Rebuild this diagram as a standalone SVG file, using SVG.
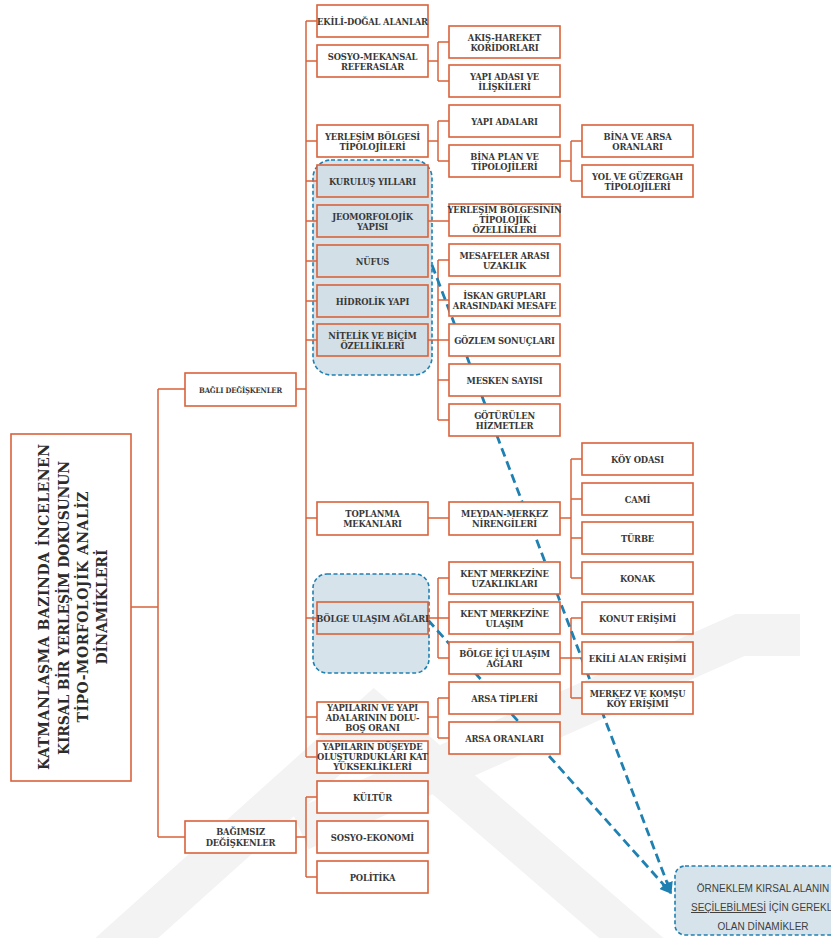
<svg xmlns="http://www.w3.org/2000/svg" width="831" height="938" viewBox="0 0 831 938">
<defs>
<style>
.b{fill:#ffffff;stroke:#d9623b;stroke-width:1.6}
.h{fill:#d3dfe6;stroke:#d9623b;stroke-width:1.6}
.ht{fill:none;stroke:#d9623b;stroke-width:1.6}
.c{fill:none;stroke:#d9623b;stroke-width:1.5}
.g{fill:#d7e3ea;stroke:#1f80b2;stroke-width:1.6;stroke-dasharray:4 2.5}
.d{fill:none;stroke:#1f80b2;stroke-width:2.8;stroke-dasharray:9 5}
.w{fill:none;stroke:#f3f3f3;stroke-width:42;stroke-linejoin:miter}
.t{font-family:"DejaVu Serif Condensed","DejaVu Serif",serif;font-stretch:condensed;font-weight:bold;font-size:9.3px;letter-spacing:-0.15px;fill:#383838;text-anchor:middle}
.s{font-size:7.6px}
.tt{font-family:"DejaVu Serif Condensed","DejaVu Serif",serif;font-stretch:condensed;font-weight:bold;font-size:15.5px;fill:#2c2c2c;text-anchor:middle}
.o{font-family:"Liberation Sans","DejaVu Sans",sans-serif;font-size:10px;fill:#404040;text-anchor:middle}
</style>
<marker id="ar" viewBox="0 0 10 10" refX="9" refY="5" markerWidth="4.2" markerHeight="4.2" orient="auto" markerUnits="strokeWidth">
<path d="M0,0 L10,5 L0,10 z" fill="#1f80b2"/>
</marker>
</defs>
<rect width="831" height="938" fill="#ffffff"/>

<g id="watermark">
<path class="w" d="M80,980 L374,716 L680,980"/>
<path class="w" stroke-width="46" d="M300,830 L740,635 L800,635"/>
</g>

<!-- highlight groups -->
<g id="group-1"><rect class="g" x="313" y="160" width="119" height="215" rx="18"/></g>
<g id="group-2"><rect class="g" x="313" y="574" width="116" height="99" rx="14"/></g>

<g id="connectors">
<path class="c" d="M131,607 H158 M158,389 V837 M158,389 H185 M158,837 H185"/>
<path class="c" d="M296,389 H306 M306,21 V757 M306,21 H317 M306,61 H317 M306,141 H317 M306,181 H317 M306,221 H317 M306,261 H317 M306,301 H317 M306,340 H317 M306,518 H317 M306,618 H317 M306,717 H317 M306,757 H317"/>
<path class="c" d="M296,837 H306 M306,797 V877 M306,797 H317 M306,877 H317"/>
<path class="c" d="M428,61 H438 M438,42 V81 M438,42 H449 M438,81 H449"/>
<path class="c" d="M428,141 H438 M438,121 V161 M438,121 H449 M438,161 H449"/>
<path class="c" d="M560,161 H571 M571,141 V181 M571,141 H582 M571,181 H582"/>
<path class="c" d="M428,221 H449"/>
<path class="c" d="M428,340 H438 M438,260 V420 M438,260 H449 M438,300 H449 M438,340 H449 M438,380 H449 M438,420 H449"/>
<path class="c" d="M428,518 H449 M560,518 H571 M571,459 V578 M571,459 H582 M571,499 H582 M571,538 H582 M571,578 H582"/>
<path class="c" d="M428,618 H438 M438,578 V658 M438,578 H449 M438,618 H449 M438,658 H449"/>
<path class="c" d="M560,658 H571 M571,618 V698 M571,618 H582 M571,658 H582 M571,698 H582"/>
<path class="c" d="M428,717 H438 M438,698 V738 M438,698 H449 M438,738 H449"/>
<path class="d" d="M432,265 L671,893" marker-end="url(#ar)"/>
<path class="d" d="M428,620 L671,893" marker-end="url(#ar)"/>
</g>

<g id="root"><rect class="b" x="11" y="434" width="120" height="347"/>
<text class="tt" transform="translate(49,607) rotate(-90)" textLength="326">KATMANLAŞMA  BAZINDA  İNCELENEN</text>
<text class="tt" transform="translate(68.5,608) rotate(-90)" textLength="294">KIRSAL BİR YERLEŞİM DOKUSUNUN</text>
<text class="tt" transform="translate(88,607) rotate(-90)" textLength="231">TİPO-MORFOLOJİK ANALİZ</text>
<text class="tt" transform="translate(106.5,607) rotate(-90)" textLength="115">DİNAMİKLERİ</text>
</g>

<g id="bagli"><rect class="b" x="185" y="373" width="111" height="33"/><text class="t s" x="240.5" y="392.5">BAĞLI DEĞİŞKENLER</text></g>
<g id="bagimsiz"><rect class="b" x="185" y="821" width="111" height="32"/><text class="t" x="240.5" y="835">BAĞIMSIZ</text><text class="t" x="240.5" y="845.5">DEĞİŞKENLER</text></g>

<g id="ekili-dogal"><rect class="b" x="317" y="5" width="111" height="32"/><text class="t" x="372.5" y="24.5">EKİLİ-DOĞAL ALANLAR</text></g>
<g id="sosyo-mekansal"><rect class="b" x="317" y="45" width="111" height="32"/><text class="t" x="372.5" y="59.5">SOSYO-MEKANSAL</text><text class="t" x="372.5" y="69.5">REFERASLAR</text></g>
<g id="yerlesim-bolgesi"><rect class="b" x="317" y="125" width="111" height="32"/><text class="t" x="372.5" y="139.5">YERLEŞİM BÖLGESİ</text><text class="t" x="372.5" y="149.5">TİPOLOJİLERİ</text></g>
<g id="kurulus"><rect class="h" x="317" y="165" width="111" height="32"/><text class="t" x="372.5" y="184.5">KURULUŞ YILLARI</text></g>
<g id="jeomorfolojik"><rect class="h" x="317" y="205" width="111" height="32"/><text class="t" x="372.5" y="219.5">JEOMORFOLOJİK</text><text class="t" x="372.5" y="229.5">YAPISI</text></g>
<g id="nufus"><rect class="h" x="317" y="245" width="111" height="32"/><text class="t" x="372.5" y="264.5">NÜFUS</text></g>
<g id="hidrolik"><rect class="h" x="317" y="285" width="111" height="32"/><text class="t" x="372.5" y="304.5">HİDROLİK YAPI</text></g>
<g id="nitelik"><rect class="h" x="317" y="324" width="111" height="32"/><text class="t" x="372.5" y="338.5">NİTELİK VE BİÇİM</text><text class="t" x="372.5" y="348.5">ÖZELLİKLERİ</text></g>
<g id="toplanma"><rect class="b" x="317" y="502" width="111" height="33"/><text class="t" x="372.5" y="517">TOPLANMA</text><text class="t" x="372.5" y="527">MEKANLARI</text></g>
<g id="bolge-ulasim"><rect class="ht" x="317" y="602" width="111" height="32"/><text class="t" x="372.5" y="621.5">BÖLGE ULAŞIM AĞLARI</text></g>
<g id="dolu-bos"><rect class="b" x="317" y="702" width="111" height="32"/><text class="t" x="372.5" y="711">YAPILARIN VE YAPI</text><text class="t" x="372.5" y="721">ADALARININ DOLU-</text><text class="t" x="372.5" y="731">BOŞ ORANI</text></g>
<g id="duseyde"><rect class="b" x="317" y="741" width="111" height="32"/><text class="t" x="372.5" y="750">YAPILARIN DÜŞEYDE</text><text class="t" x="372.5" y="760">OLUŞTURDUKLARI KAT</text><text class="t" x="372.5" y="770">YÜKSEKLİKLERİ</text></g>
<g id="kultur"><rect class="b" x="317" y="781" width="111" height="32"/><text class="t" x="372.5" y="800.5">KÜLTÜR</text></g>
<g id="sosyo-ekonomi"><rect class="b" x="317" y="821" width="111" height="32"/><text class="t" x="372.5" y="840.5">SOSYO-EKONOMİ</text></g>
<g id="politika"><rect class="b" x="317" y="861" width="111" height="32"/><text class="t" x="372.5" y="880.5">POLİTİKA</text></g>

<g id="akis"><rect class="b" x="449" y="26" width="111" height="32"/><text class="t" x="504.5" y="40.5">AKIŞ-HAREKET</text><text class="t" x="504.5" y="50.5">KORİDORLARI</text></g>
<g id="yapi-adasi"><rect class="b" x="449" y="65" width="111" height="32"/><text class="t" x="504.5" y="79.5">YAPI ADASI VE</text><text class="t" x="504.5" y="89.5">İLİŞKİLERİ</text></g>
<g id="yapi-adalari"><rect class="b" x="449" y="105" width="111" height="32"/><text class="t" x="504.5" y="124.5">YAPI ADALARI</text></g>
<g id="bina-plan"><rect class="b" x="449" y="145" width="111" height="32"/><text class="t" x="504.5" y="159.5">BİNA PLAN VE</text><text class="t" x="504.5" y="169.5">TİPOLOJİLERİ</text></g>
<g id="tipolojik-ozellikler"><rect class="b" x="449" y="204" width="111" height="32"/><text class="t" x="504.5" y="213">YERLEŞİM BÖLGESİNİN</text><text class="t" x="504.5" y="223">TİPOLOJİK</text><text class="t" x="504.5" y="233">ÖZELLİKLERİ</text></g>
<g id="mesafeler"><rect class="b" x="449" y="244" width="111" height="32"/><text class="t" x="504.5" y="258.5">MESAFELER ARASI</text><text class="t" x="504.5" y="268.5">UZAKLIK</text></g>
<g id="iskan"><rect class="b" x="449" y="284" width="111" height="32"/><text class="t" x="504.5" y="298.5">İSKAN GRUPLARI</text><text class="t" x="504.5" y="308.5">ARASINDAKİ MESAFE</text></g>
<g id="gozlem"><rect class="b" x="449" y="324" width="111" height="32"/><text class="t" x="504.5" y="343.5">GÖZLEM SONUÇLARI</text></g>
<g id="mesken"><rect class="b" x="449" y="364" width="111" height="32"/><text class="t" x="504.5" y="383.5">MESKEN SAYISI</text></g>
<g id="goturulen"><rect class="b" x="449" y="404" width="111" height="32"/><text class="t" x="504.5" y="418.5">GÖTÜRÜLEN</text><text class="t" x="504.5" y="428.5">HİZMETLER</text></g>
<g id="meydan"><rect class="b" x="449" y="502" width="111" height="33"/><text class="t" x="504.5" y="517">MEYDAN-MERKEZ</text><text class="t" x="504.5" y="527">NİRENGİLERİ</text></g>
<g id="kent-uzaklik"><rect class="b" x="449" y="562" width="111" height="32"/><text class="t" x="504.5" y="576.5">KENT MERKEZİNE</text><text class="t" x="504.5" y="586.5">UZAKLIKLARI</text></g>
<g id="kent-ulasim"><rect class="b" x="449" y="602" width="111" height="32"/><text class="t" x="504.5" y="616.5">KENT MERKEZİNE</text><text class="t" x="504.5" y="626.5">ULAŞIM</text></g>
<g id="bolge-ici"><rect class="b" x="449" y="642" width="111" height="32"/><text class="t" x="504.5" y="656.5">BÖLGE İÇİ ULAŞIM</text><text class="t" x="504.5" y="666.5">AĞLARI</text></g>
<g id="arsa-tipleri"><rect class="b" x="449" y="682" width="111" height="32"/><text class="t" x="504.5" y="701.5">ARSA TİPLERİ</text></g>
<g id="arsa-oranlari"><rect class="b" x="449" y="722" width="111" height="32"/><text class="t" x="504.5" y="741.5">ARSA ORANLARI</text></g>

<g id="bina-arsa"><rect class="b" x="582" y="125" width="111" height="32"/><text class="t" x="637.5" y="139.5">BİNA VE ARSA</text><text class="t" x="637.5" y="149.5">ORANLARI</text></g>
<g id="yol-guzergah"><rect class="b" x="582" y="165" width="111" height="32"/><text class="t" x="637.5" y="179.5">YOL VE GÜZERGAH</text><text class="t" x="637.5" y="189.5">TİPOLOJİLERİ</text></g>
<g id="koy-odasi"><rect class="b" x="582" y="443" width="111" height="32"/><text class="t" x="637.5" y="462.5">KÖY ODASI</text></g>
<g id="cami"><rect class="b" x="582" y="483" width="111" height="32"/><text class="t" x="637.5" y="502.5">CAMİ</text></g>
<g id="turbe"><rect class="b" x="582" y="522" width="111" height="32"/><text class="t" x="637.5" y="541.5">TÜRBE</text></g>
<g id="konak"><rect class="b" x="582" y="562" width="111" height="32"/><text class="t" x="637.5" y="581.5">KONAK</text></g>
<g id="konut-erisimi"><rect class="b" x="582" y="602" width="111" height="32"/><text class="t" x="637.5" y="621.5">KONUT ERİŞİMİ</text></g>
<g id="ekili-alan-erisimi"><rect class="b" x="582" y="642" width="111" height="32"/><text class="t" x="637.5" y="661.5">EKİLİ ALAN ERİŞİMİ</text></g>
<g id="merkez-komsu"><rect class="b" x="582" y="682" width="111" height="32"/><text class="t" x="637.5" y="696.5">MERKEZ VE KOMŞU</text><text class="t" x="637.5" y="706.5">KÖY ERİŞİMİ</text></g>

<g id="orneklem"><rect class="g" x="675" y="866" width="170" height="69" rx="10"/>
<text class="o" x="763" y="892">ÖRNEKLEM KIRSAL ALANIN</text>
<text class="o" x="763" y="911"><tspan text-decoration="underline">SEÇİLEBİLMESİ</tspan> İÇİN GEREKLİ</text>
<text class="o" x="763" y="930">OLAN DİNAMİKLER</text>
</g>
</svg>
